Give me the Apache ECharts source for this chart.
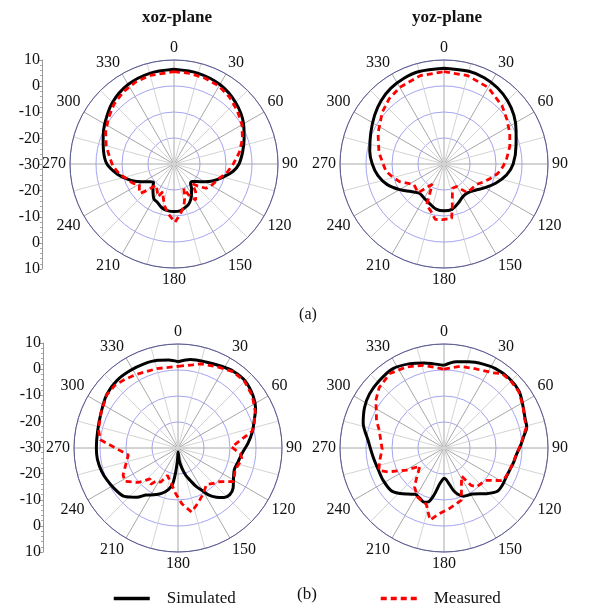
<!DOCTYPE html>
<html><head><meta charset="utf-8">
<script src="https://cdn.jsdelivr.net/npm/echarts@6/dist/echarts.min.js"></script>
<style>html,body{margin:0;padding:0;background:#fff}#c{width:590px;height:605px}</style>
</head><body><div id="c"></div>
<script>
// ---- text ----
const panelTitles = ['xoz-plane', 'yoz-plane'];
const rowLabels = ['(a)', '(b)'];
const seriesNames = ['Simulated', 'Measured'];
const dbTickLabels = ['10', '0', '-10', '-20', '-30', '-20', '-10', '0', '10'];

// ---- (a) xoz-plane ----
const aXozSimAng = [0,15,30,45,60,70,80,90,97,105,113,120,128,134,139,145,152,158,164,172,180,188,196,204,210,216,222,228,234,240,246,253,260,270,280,290,300,315,330,345,360];
const aXozSimDb  = [6.4,6.1,5.3,3.5,0.9,-1.3,-3.2,-5.0,-7.1,-10.5,-13.5,-16.4,-19.0,-20.3,-20.3,-18.2,-15.8,-14.0,-12.9,-11.9,-11.7,-11.9,-12.6,-14.0,-14.5,-16.3,-17.9,-19.4,-18.4,-16.4,-13.6,-10.8,-7.8,-4.2,-2.5,-1.0,0.8,3.5,5.3,6.1,6.4];
const aXozMeaAng = [0,10,20,30,40,50,60,70,80,90,100,107,118,127,132,137,142,149,155,158,163,167,173,179,186,192,197,202,206,213,220,225,229,234,239,245,253,260,268,275,285,295,305,315,325,335,345,360];
const aXozMeaDb  = [5.5,5.4,5.1,4.6,3.4,1.8,0.2,-2.0,-4.5,-7.2,-9.5,-11.6,-13.2,-14.5,-17.0,-19.6,-16.5,-13.8,-17.0,-19.9,-16.0,-13.2,-10.5,-7.6,-10.5,-13.2,-16.0,-18.5,-16.0,-18.0,-19.4,-16.0,-12.7,-13.5,-14.5,-12.5,-10.8,-8.6,-6.5,-5.3,-3.0,-1.0,0.8,2.6,3.9,4.8,5.3,5.5];

// ---- (a) yoz-plane ----
const aYozSimAng = [0,15,25,35,45,55,65,75,90,100,110,120,130,140,150,160,170,180,190,200,210,220,230,240,250,260,270,280,293,305,315,325,335,345,360];
const aYozSimDb  = [6.8,6.9,6.6,5.8,4.5,2.8,0.6,-1.3,-3.4,-5.6,-8.7,-11.8,-14.3,-15.6,-15.5,-14.0,-12.3,-12.0,-12.4,-13.8,-14.8,-15.3,-13.5,-10.3,-6.8,-4.2,-2.4,-1.0,0.6,2.6,4.3,5.6,6.4,6.8,6.8];
const aYozMeaAng = [0,15,30,45,55,65,75,85,92,100,108,115,122,132,141,151,161,169,172,181,189,195,203,210,222,236,248,256,263,270,280,295,310,320,330,345,360];
const aYozMeaDb  = [5.5,5.2,4.0,1.6,-0.4,-2.1,-3.8,-5.8,-7.2,-9.0,-11.5,-13.5,-15.2,-15.7,-15.8,-20.1,-20.1,-13.3,-8.9,-8.6,-8.4,-11.0,-12.9,-21.0,-15.1,-16.0,-11.7,-9.5,-7.5,-6.6,-4.6,-2.0,1.0,2.8,4.0,5.2,5.5];

// ---- (b) xoz-plane ----
const bXozSimAng = [0,8,18,28,36,45,55,63,70,78,86,95,103,111,119,126,132,137,142,147,151,155,159,164,169,174,179,182,184.5,186.5,188.5,193,200,207,214,220,228,238,246,253,262,270,282,295,307,318,328,338,347,354,360];
const bXozSimDb  = [3.2,4.4,4.8,5.6,6.4,6.5,5.2,3.5,1.2,-0.8,-3.0,-5.3,-6.3,-6.8,-5.6,-3.8,-3.2,-4.0,-6.0,-8.5,-11.5,-13.8,-16.5,-19.0,-22.0,-25.0,-28.5,-26.0,-22.5,-19.0,-16.0,-13.6,-11.4,-9.8,-8.2,-5.3,-2.2,-0.9,0.0,0.7,1.3,1.4,1.6,2.6,4.3,5.0,5.0,4.9,4.6,4.0,3.2];
const bXozMeaAng = [0,10,15,25,36,45,55,65,72,77,89,95,99,105,111,121,131,135,142,151,160,168,176,183,192,201,207,213,217,222,229,238,244,262,276,283,295,307,315,322,330,345,360];
const bXozMeaDb  = [1.4,2.5,3.5,4.6,6.2,6.2,4.9,2.8,0.8,-0.5,-9.4,-6.0,-5.2,-5.8,-6.5,-5.0,-10.2,-10.7,-12.2,-9.9,-7.5,-4.8,-8.5,-12.5,-16.5,-18.7,-15.2,-15.0,-12.5,-14.0,-9.8,-5.8,-6.5,-10.7,0.0,1.4,2.6,4.2,4.2,3.4,2.6,1.6,1.4];

// ---- (b) yoz-plane ----
const bYozSimAng = [0,8,16,25,33,43,53,62,70,76,81,88,95,101,108,115,122,129,137,148,158,166,171,176,180,184,187,192,196,200,206,212,218,224,231,242,251,263,276,287,297,306,316,327,338,347,353,360];
const bYozSimDb  = [1.8,3.5,4.5,5.6,6.4,6.7,6.2,4.4,3.2,2.8,1.2,-0.5,-2.0,-2.6,-3.3,-3.6,-3.4,-3.6,-6.0,-9.1,-10.0,-12.5,-15.5,-17.8,-18.4,-17.3,-16.0,-11.5,-8.5,-7.8,-8.6,-9.0,-7.5,-5.7,-3.9,-3.5,-3.4,-2.5,-0.6,2.5,4.3,5.4,5.9,6.3,5.0,3.6,2.6,1.8];
const bYozMeaAng = [0,11,20,27,33,38,45,53,62,70,76,81,88,95,101,108,114,119,128,140,144,148,161.5,175,184,191,197.5,208,217,221,233,239.5,247,251,259,269,277,286,292,297,305,313,324,335,346,360];
const bYozMeaDb  = [0.3,2.0,2.6,3.4,4.5,6.3,6.4,6.0,4.4,3.0,2.6,1.0,-0.6,-2.1,-2.7,-3.3,-3.7,-4.1,-9.8,-10.5,-12.2,-17.3,-8.9,-6.6,-4.7,-1.8,-7.3,-8.5,-11.2,-13.6,-18.4,-13.2,-6.5,-3.5,-4.8,-6.2,-5.5,-4.0,-2.0,-0.8,2.0,4.1,5.4,4.4,2.8,0.3];

// ---- build ----
const FONT = "'Liberation Serif','Times New Roman',serif";
const pair = (ang, db) => ang.map((a, i) => [db[i], a]);
const panels = [
  { center: [174, 164], sim: pair(aXozSimAng, aXozSimDb), mea: pair(aXozMeaAng, aXozMeaDb) },
  { center: [444, 164], sim: pair(aYozSimAng, aYozSimDb), mea: pair(aYozMeaAng, aYozMeaDb) },
  { center: [178, 448], sim: pair(bXozSimAng, bXozSimDb), mea: pair(bXozMeaAng, bXozMeaDb) },
  { center: [444, 448], sim: pair(bYozSimAng, bYozSimDb), mea: pair(bYozMeaAng, bYozMeaDb) }
];

const leftAxis = (gi) => ({
  gridIndex: gi, type: 'value', min: -40, max: 40, interval: 10,
  axisLine: { show: true, lineStyle: { color: '#999', width: 1 } },
  axisTick: { show: true, length: 3, lineStyle: { color: '#999' } },
  minorTick: { show: true, splitNumber: 5, length: 2, lineStyle: { color: '#aaa' } },
  splitLine: { show: false },
  axisLabel: { formatter: v => dbTickLabels[Math.round((40 - v) / 10)], fontFamily: FONT, fontSize: 16, color: '#111', margin: 2 }
});

const legendBase = {
  itemWidth: 36, itemHeight: 14, top: 585,
  itemStyle: { opacity: 0 },
  lineStyle: { width: 3.5 },
  textStyle: { fontFamily: FONT, fontSize: 17, color: '#111', padding: [0, 0, 0, 12] }
};

const option = {
  animation: false,
  backgroundColor: '#fff',
  polar: panels.map(p => ({ center: p.center, radius: 104 })),
  angleAxis: panels.map((p, i) => ({
    polarIndex: i, type: 'value', min: 0, max: 360, interval: 30,
    startAngle: 90, clockwise: true,
    axisLine: { show: true, lineStyle: { color: '#5c5c84', width: 1 } },
    axisTick: { show: false },
    axisLabel: { fontFamily: FONT, fontSize: 16, color: '#111', margin: 4 },
    splitLine: { show: true, lineStyle: { color: '#a8a8a8', width: 1 } },
    minorTick: { show: false, splitNumber: 2 },
    minorSplitLine: { show: true, lineStyle: { color: '#d4d4d4', width: 1 } }
  })),
  radiusAxis: panels.map((p, i) => ({
    polarIndex: i, type: 'value', min: -30, max: 10, interval: 10,
    axisLine: { show: false }, axisTick: { show: false }, axisLabel: { show: false },
    splitLine: { show: true, lineStyle: { color: '#a4a4f2', width: 1 } }
  })),
  grid: [
    { left: 42, top: 60, width: 1, height: 209 },
    { left: 43, top: 343, width: 1, height: 209 }
  ],
  xAxis: [{ gridIndex: 0, type: 'value', show: false }, { gridIndex: 1, type: 'value', show: false }],
  yAxis: [leftAxis(0), leftAxis(1)],
  legend: [
    Object.assign({ data: [seriesNames[0]], left: 107 }, legendBase),
    Object.assign({ data: [seriesNames[1]], left: 374 }, legendBase)
  ],
  graphic: [
    { type: 'text', x: 177, y: 18, style: { text: panelTitles[0], font: "bold 17px " + FONT, fill: '#111', textAlign: 'center', textVerticalAlign: 'middle' } },
    { type: 'text', x: 447, y: 18, style: { text: panelTitles[1], font: "bold 17px " + FONT, fill: '#111', textAlign: 'center', textVerticalAlign: 'middle' } },
    { type: 'text', x: 308, y: 315, style: { text: rowLabels[0], font: "16px " + FONT, fill: '#111', textAlign: 'center', textVerticalAlign: 'middle' } },
    { type: 'text', x: 307, y: 595, style: { text: rowLabels[1], font: "17px " + FONT, fill: '#111', textAlign: 'center', textVerticalAlign: 'middle' } }
  ],
  series: panels.flatMap((p, i) => [
    { type: 'line', name: seriesNames[0], coordinateSystem: 'polar', polarIndex: i, data: p.sim,
      symbol: 'none', smooth: 0.3, lineStyle: { color: '#000', width: 3 }, itemStyle: { color: '#000' }, z: 3 },
    { type: 'line', name: seriesNames[1], coordinateSystem: 'polar', polarIndex: i, data: p.mea,
      symbol: 'none', smooth: false, lineStyle: { color: '#ff0000', width: 2.8, type: [6, 4] }, itemStyle: { color: '#ff0000' }, z: 4 }
  ])
};

const chart = echarts.init(document.getElementById('c'), null, { renderer: 'canvas' });
chart.setOption(option);
</script>
</body></html>
